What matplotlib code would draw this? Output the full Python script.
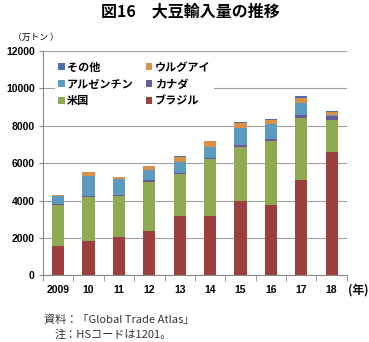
import matplotlib
matplotlib.use("Agg")
import matplotlib.pyplot as plt
import numpy as np

plt.rcParams['font.family'] = ['Noto Sans CJK JP', 'DejaVu Sans']

years = ['2009', '10', '11', '12', '13', '14', '15', '16', '17', '18']
brazil    = [1590, 1860, 2070, 2370, 3170, 3190, 3990, 3760, 5090, 6600]
usa       = [2180, 2340, 2170, 2630, 2240, 3000, 2850, 3400, 3290, 1690]
canada    = [60, 30, 40, 70, 70, 70, 120, 100, 190, 210]
argentina = [390, 1100, 850, 550, 590, 600, 920, 840, 640, 90]
uruguay   = [50, 180, 130, 210, 270, 290, 270, 180, 270, 130]
other     = [20, 10, 10, 10, 10, 10, 40, 50, 90, 70]

series = [
    ('ブラジル', brazil, '#9B403D'),
    ('米国', usa, '#8FAA50'),
    ('カナダ', canada, '#6B5A9A'),
    ('アルゼンチン', argentina, '#5B9BC0'),
    ('ウルグアイ', uruguay, '#D9914A'),
    ('その他', other, '#4F6FA8'),
]

fig = plt.figure(figsize=(3.69, 3.42), dpi=100)
ax = fig.add_axes([0.1165, 0.1945, 0.8235, 0.6575])

x = np.arange(len(years))
bottom = np.zeros(len(years))
handles = {}
for name, vals, col in series:
    h = ax.bar(x, vals, width=0.4, bottom=bottom, color=col, zorder=3)
    handles[name] = h
    bottom += np.array(vals)

ax.set_xlim(-0.5, len(years) - 0.5)
ax.set_ylim(0, 12000)
ax.set_yticks(range(0, 12001, 2000))
ax.set_yticklabels([str(v) for v in range(0, 12001, 2000)], fontsize=7.5,
                   fontweight='bold', family=['Liberation Sans', 'DejaVu Sans'])
ax.set_xticks(x)
ax.set_xticklabels(years, fontsize=7.5, fontweight='bold',
                   family=['Liberation Sans', 'DejaVu Sans'])
ax.set_xticks(np.arange(-0.5, len(years)), minor=True)
ax.tick_params(axis='x', which='major', length=0, pad=7)
ax.tick_params(axis='x', which='minor', length=4, color='#888888', direction='out')
ax.tick_params(axis='y', length=3, color='#888888', pad=3)
ax.yaxis.grid(True, color='#A0A0A0', linewidth=0.8, zorder=0)
for s in ['top', 'right']:
    ax.spines[s].set_visible(False)
ax.spines['left'].set_color('#888888')
ax.spines['bottom'].set_color('#888888')

order = ['その他', 'アルゼンチン', '米国', 'ウルグアイ', 'カナダ', 'ブラジル']
leg = ax.legend([handles[n] for n in order], order, ncol=2, loc='upper left',
                bbox_to_anchor=(0.02, 0.995), frameon=True,
                handlelength=0.6, handleheight=0.6, handletextpad=0.2,
                columnspacing=1.1, labelspacing=0.35, borderpad=0.3,
                prop={'weight': 'bold', 'size': 8})
leg.get_frame().set_edgecolor('none')
leg.get_frame().set_facecolor('white')
leg.get_frame().set_alpha(1)
leg.set_zorder(5)

fig.text(0.515, 0.968, '図16　大豆輸入量の推移', ha='center', va='center',
         fontsize=11.5, fontweight='bold')
fig.text(0.035, 0.89, '（万トン ）', ha='left', va='center', fontsize=6.3)
fig.text(0.942, 0.152, '(年)', ha='left', va='center', fontsize=8.5, fontweight='bold')
fig.text(0.118, 0.064, '資料：「Global Trade Atlas」', ha='left', va='center',
         fontsize=8, color='#333333')
fig.text(0.148, 0.021, '注：HSコードは1201。', ha='left', va='center',
         fontsize=8, color='#333333')

fig.savefig('out.png', dpi=100)
